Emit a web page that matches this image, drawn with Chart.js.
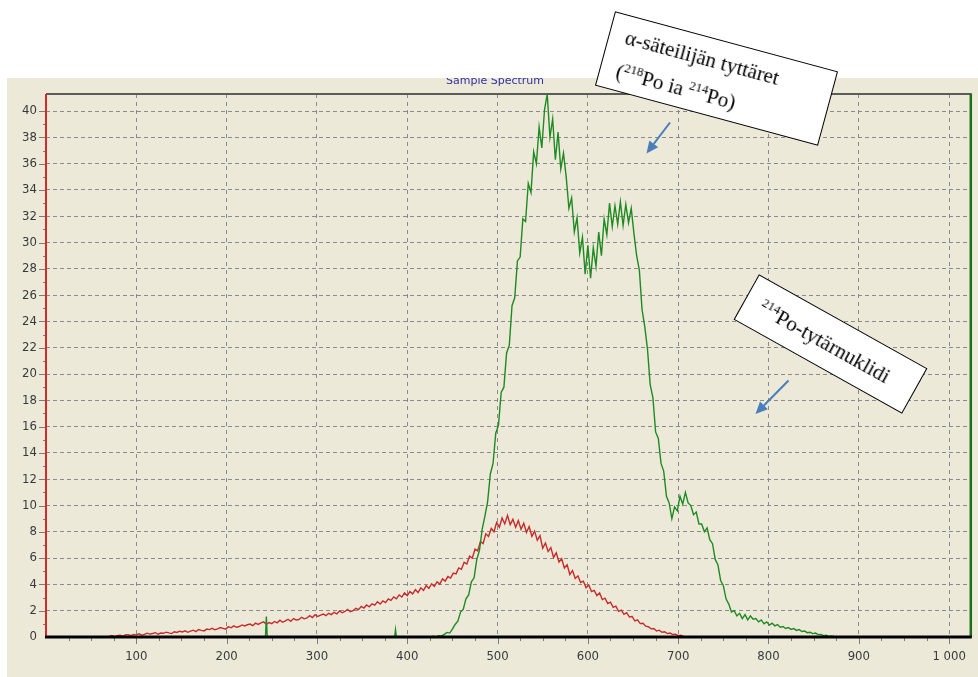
<!DOCTYPE html>
<html><head><meta charset="utf-8">
<script src="https://cdn.jsdelivr.net/npm/chart.js@4.4.0/dist/chart.umd.min.js"></script>
<style>
html,body{margin:0;padding:0;background:#fff;}
#wrap{position:relative;width:978px;height:677px;overflow:hidden;background:#fff;}
#c{position:absolute;left:0;top:0;}
.note{position:absolute;background:#fff;border:1.5px solid #000;box-sizing:border-box;font-family:'Liberation Serif','Times New Roman',serif;font-size:21px;color:#000;transform-origin:50% 50%;}
.note .l{position:absolute;white-space:nowrap;line-height:21px;}
.note sup{font-size:13px;vertical-align:0;position:relative;top:-8px;}
#ttl{position:absolute;left:430px;top:78px;width:140px;height:10px;overflow:hidden;}
#ttl span{position:absolute;left:16px;top:-4px;font:11px 'DejaVu Sans',Tahoma,sans-serif;line-height:13px;color:#3030a0;white-space:nowrap;}
</style></head>
<body>
<div id="wrap">
<canvas id="c" width="978" height="677"></canvas>
<div id="ttl"><span>Sample Spectrum</span></div>
<div class="note" style="left:601px;top:40px;width:231px;height:77px;transform:rotate(15.1deg);">
 <span class="l" style="left:16px;top:11px;">α-säteilijän tyttäret</span>
 <span class="l" style="left:16px;top:46px;">(<sup>218</sup>Po ia <sup>214</sup>Po)</span>
</div>
<div class="note" style="left:733.5px;top:318px;width:193px;height:52px;transform:rotate(29.2deg);">
 <span class="l" style="left:16px;top:16px;"><sup>214</sup>Po-tytärnuklidi</span>
</div>
</div>
<script>
// channel axis
const xMin = 0, xMax = 1024;
const yMin = 0, yMax = 41.3;
const xTickValues = [100, 200, 300, 400, 500, 600, 700, 800, 900, 1000];
const xTickLabels = ['100', '200', '300', '400', '500', '600', '700', '800', '900', '1 000'];

// red series (214Po) : channels redStart, redStart+redStep, ...
const redStart = 70, redStep = 3;
const redCounts = [
 0.05,0.12,0.03,0.1,0.14,0.06,0.15,0.18,0.1,0.2,
 0.16,0.24,0.14,0.2,0.29,0.22,0.27,0.33,0.21,0.3,
 0.28,0.37,0.31,0.26,0.4,0.35,0.44,0.38,0.47,0.36,
 0.45,0.52,0.41,0.57,0.5,0.46,0.6,0.56,0.66,0.55,
 0.62,0.72,0.66,0.6,0.79,0.7,0.85,0.74,0.8,0.92,
 0.84,0.93,0.98,0.86,1.05,0.96,1.08,1.15,0.97,1.1,
 1.02,1.18,1.08,1.28,1.12,1.22,1.35,1.2,1.4,1.3,
 1.33,1.5,1.38,1.45,1.62,1.48,1.7,1.56,1.66,1.75,
 1.62,1.8,1.7,1.88,1.76,1.98,1.84,1.94,2.1,1.92,
 2.0,2.18,2.08,2.32,2.2,2.44,2.3,2.52,2.42,2.68,
 2.5,2.74,2.62,2.9,2.78,3.05,2.9,3.2,3.04,3.35,
 3.14,3.45,3.28,3.6,3.38,3.74,3.55,3.9,3.7,4.05,
 3.85,4.2,4.02,4.42,4.25,4.6,4.48,4.86,4.8,5.25,
 5.15,5.68,5.55,6.15,6.0,6.68,6.55,7.25,7.1,7.85,
 7.65,8.25,8.0,8.7,8.35,9.05,8.6,9.25,8.55,8.95,
 8.35,8.85,8.2,8.65,7.95,8.4,7.65,8.05,7.35,7.7,
 6.75,7.15,6.5,6.8,6.05,6.4,5.7,5.95,5.25,5.5,
 4.75,5.05,4.45,4.65,4.15,4.25,3.75,3.95,3.45,3.55,
 3.15,3.35,2.85,2.95,2.55,2.65,2.25,2.35,1.95,2.05,
 1.72,1.85,1.52,1.56,1.22,1.3,1.02,1.05,0.82,0.78,
 0.62,0.65,0.46,0.52,0.36,0.4,0.26,0.3,0.19,0.22,
 0.1,0.13,0.05
];

// green series (alpha daughters 218Po and 214Po)
const greenStart = 426, greenStep = 3;
const greenCounts = [
 0,0.05,0,0.1,0.08,0.2,0.35,0.3,0.6,0.95,
 1.2,1.9,2.1,2.9,3.2,4.2,4.5,5.9,6.6,8.2,
 9.2,10.3,12.4,13.2,15.5,16.1,18.6,19.0,21.6,22.2,
 25.2,25.8,28.6,28.9,31.8,31.6,34.5,33.8,36.9,36.0,
 38.8,37.2,40.1,41.3,38.0,39.4,36.3,38.4,35.6,36.8,
 35.0,32.6,33.4,30.8,31.9,29.2,30.4,27.6,29.8,27.3,
 29.6,28.2,30.8,29.0,31.8,30.6,33.0,31.2,32.8,31.4,
 33.1,31.3,32.9,31.5,32.6,30.7,29.0,27.9,24.9,23.6,
 21.9,19.2,18.2,15.6,15.1,13.2,12.6,10.7,10.2,9.0,
 9.9,9.6,10.7,10.1,11.0,10.2,10.0,9.3,9.5,8.6,
 8.6,8.0,8.3,7.4,7.1,5.9,5.5,4.3,3.9,2.9,
 2.5,1.9,2.0,1.6,1.8,1.4,1.7,1.3,1.6,1.35,
 1.4,1.15,1.3,1.0,1.15,0.9,1.05,0.85,0.95,0.75,
 0.8,0.65,0.72,0.58,0.64,0.5,0.56,0.42,0.45,0.33,
 0.36,0.26,0.3,0.18,0.2,0.1,0.14,0.05,0.08,0.02,
 0.03,0
];
// isolated green counts at low channels
const greenSpikeChannels = [243, 244, 245, 386, 387, 388];
const greenSpikeCounts = [0, 1.55, 0, 0, 0.55, 0];

const redColor = '#c82b2b';
const greenColor = '#1f8a22';

const toPoints = (start, step, vals) => vals.map((v, i) => ({x: start + i * step, y: v}));
const redData = toPoints(redStart, redStep, redCounts);
const greenData = toPoints(greenStart, greenStep, greenCounts);
const spikeData = greenSpikeChannels.map((c, i) => ({x: c, y: greenSpikeCounts[i]}));

const labelFont = {family: "'Liberation Sans Narrow','DejaVu Sans Condensed','Liberation Sans',Arial,sans-serif", size: 13};

const deco = {
  id: 'deco',
  beforeDraw(chart) {
    const c = chart.ctx;
    c.save();
    c.fillStyle = '#ffffff';
    c.fillRect(0, 0, chart.width, chart.height);
    c.fillStyle = '#ece9d8';
    c.fillRect(7, 78, chart.width - 7, chart.height - 78);
    c.restore();
  },
  afterDraw(chart) {
    const c = chart.ctx, a = chart.chartArea, x = chart.scales.x, y = chart.scales.y;
    c.save();
    c.strokeStyle = '#7c7c7c';
    c.lineWidth = 1;
    c.beginPath();
    for (let v = 25; v <= 1000; v += 25) {
      const px = Math.round(x.getPixelForValue(v)) + 0.5;
      const len = v % 100 === 0 ? 7 : 4;
      c.moveTo(px, a.bottom); c.lineTo(px, a.bottom + len);
    }
    for (let v = 1; v <= 40; v += 1) {
      const py = Math.round(y.getPixelForValue(v)) + 0.5;
      const len = v % 2 === 0 ? 7 : 3;
      c.moveTo(a.left - len, py); c.lineTo(a.left, py);
    }
    c.stroke();
    // frame
    c.lineCap = 'butt';
    c.strokeStyle = '#5b5b5b'; c.lineWidth = 2;
    c.beginPath(); c.moveTo(a.left, a.top); c.lineTo(a.right + 1, a.top); c.stroke();
    c.strokeStyle = '#1c6e1c'; c.lineWidth = 2.5;
    c.beginPath(); c.moveTo(a.right, a.top); c.lineTo(a.right, a.bottom); c.stroke();
    c.strokeStyle = '#d42a2a'; c.lineWidth = 2;
    c.beginPath(); c.moveTo(a.left, a.top); c.lineTo(a.left, a.bottom); c.stroke();
    c.strokeStyle = '#000000'; c.lineWidth = 3;
    c.beginPath(); c.moveTo(a.left - 1, a.bottom); c.lineTo(a.right + 1, a.bottom); c.stroke();
    // arrows
    const arrow = (x1, y1, x2, y2) => {
      const ang = Math.atan2(y2 - y1, x2 - x1), hl = 12, hw = 5.5;
      const bx = x2 - hl * Math.cos(ang), by = y2 - hl * Math.sin(ang);
      c.strokeStyle = '#4a7ebb'; c.fillStyle = '#4a7ebb'; c.lineWidth = 2;
      c.beginPath(); c.moveTo(x1, y1); c.lineTo(bx, by); c.stroke();
      c.beginPath(); c.moveTo(x2, y2);
      c.lineTo(bx + hw * Math.sin(ang), by - hw * Math.cos(ang));
      c.lineTo(bx - hw * Math.sin(ang), by + hw * Math.cos(ang));
      c.closePath(); c.fill();
    };
    arrow(670, 122.5, 646.5, 153.5);
    arrow(788.5, 380.5, 755.5, 414);
    c.restore();
  }
};

new Chart(document.getElementById('c'), {
  type: 'line',
  data: {
    datasets: [
      {data: greenData, borderColor: greenColor, borderWidth: 1.4, pointRadius: 0, tension: 0, fill: false},
      {data: spikeData, borderColor: greenColor, borderWidth: 1.4, pointRadius: 0, tension: 0, fill: false},
      {data: redData, borderColor: redColor, borderWidth: 1.4, pointRadius: 0, tension: 0, fill: false}
    ]
  },
  options: {
    responsive: false,
    devicePixelRatio: 1,
    animation: false,
    events: [],
    layout: {padding: {top: 94, right: 6, left: 0, bottom: 0}},
    plugins: {legend: {display: false}, tooltip: {enabled: false}, title: {display: false}},
    scales: {
      x: {
        type: 'linear', min: xMin, max: xMax,
        afterFit: s => { s.height = 40; },
        afterBuildTicks: s => { s.ticks = xTickValues.map(v => ({value: v})); },
        ticks: {
          autoSkip: false, maxRotation: 0, minRotation: 0, padding: 12,
          color: '#3a3a3a', font: labelFont,
          callback: v => { const i = xTickValues.indexOf(v); return i >= 0 ? xTickLabels[i] : ''; }
        },
        grid: {color: '#8a8a8a', lineWidth: 1, drawTicks: false},
        border: {display: false, dash: [4, 4]}
      },
      y: {
        type: 'linear', min: yMin, max: yMax,
        afterFit: s => { s.width = 46; },
        ticks: {stepSize: 2, includeBounds: false, padding: 9, color: '#3a3a3a', font: labelFont},
        grid: {color: '#8a8a8a', lineWidth: 1, drawTicks: false},
        border: {display: false, dash: [4, 3]}
      }
    }
  },
  plugins: [deco]
});
</script>
</body></html>
